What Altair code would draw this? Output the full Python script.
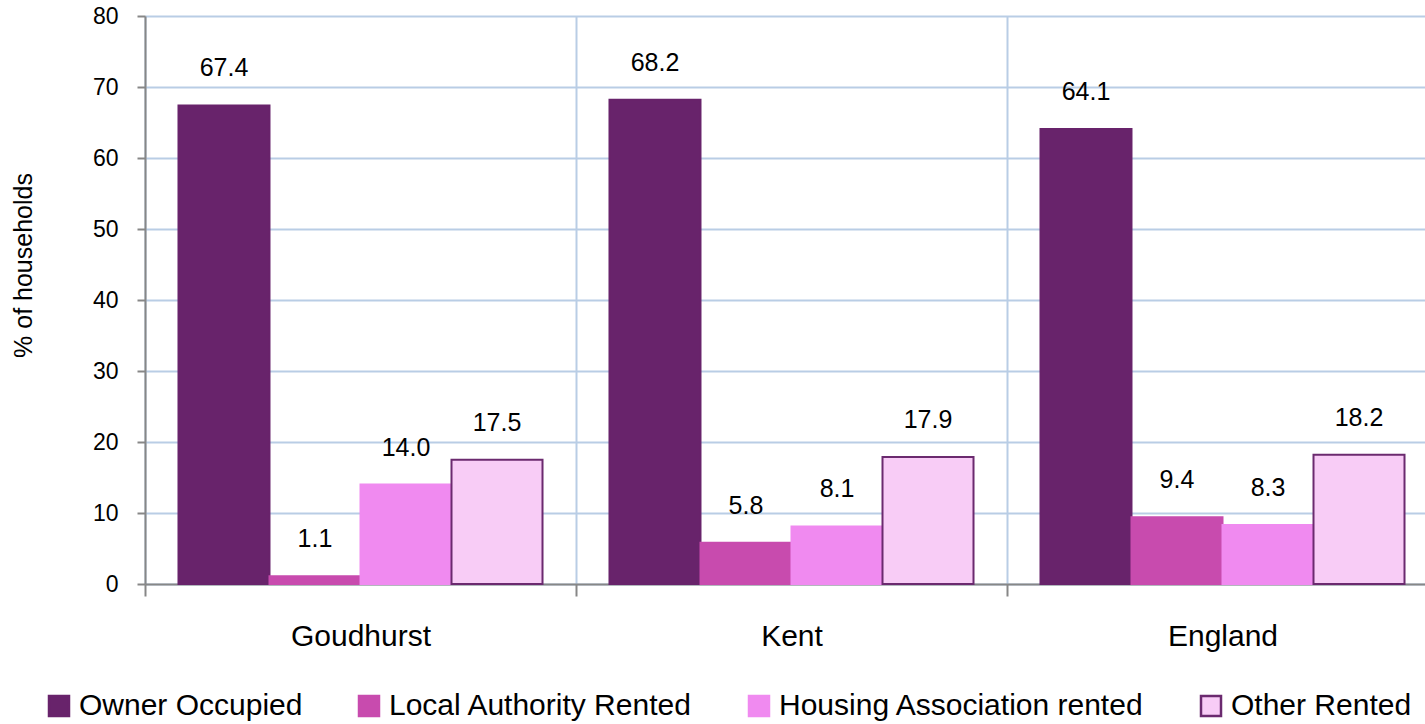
import altair as alt
import pandas as pd

# Household tenure shares (% of households)
areas = ["Goudhurst", "Kent", "England"]
tenures = [
    "Owner Occupied",
    "Local Authority Rented",
    "Housing Association rented",
    "Other Rented",
]
owner_occupied = [67.4, 68.2, 64.1]
local_authority = [1.1, 5.8, 9.4]
housing_association = [14.0, 8.1, 8.3]
other_rented = [17.5, 17.9, 18.2]

fill_colors = ["#68236b", "#c84bae", "#f08af0", "#f8ccf6"]
stroke_colors = ["#68236b", "#c84bae", "#f08af0", "#6b2a6f"]

series = [owner_occupied, local_authority, housing_association, other_rented]
rows = []
for tenure, values in zip(tenures, series):
    for area, v in zip(areas, values):
        rows.append({"area": area, "tenure": tenure, "pct": v})
df = pd.DataFrame(rows)

FONT = "Liberation Sans"
GRID = "#b9cde5"
AXIS = "#878787"

x_enc = alt.X(
    "area:N",
    sort=areas,
    scale=alt.Scale(domain=areas, range=[0, 1293], paddingInner=0, paddingOuter=0),
    axis=alt.Axis(
        title=None,
        tickBand="extent",
        grid=True,
        gridColor=GRID,
        gridWidth=2,
        domainColor=AXIS,
        domainWidth=2,
        tickColor=AXIS,
        tickWidth=2,
        tickSize=12,
        labelAngle=0,
        labelFontSize=30,
        labelFont=FONT,
        labelColor="#000000",
        labelPadding=25,
        labelBaseline="top",
    ),
)
xoff_enc = alt.XOffset(
    "tenure:N",
    sort=tenures,
    scale=alt.Scale(domain=tenures, paddingInner=0, paddingOuter=0.368),
)
y_enc = alt.Y(
    "pct:Q",
    scale=alt.Scale(domain=[0, 80], nice=False),
    axis=alt.Axis(
        title="% of households",
        titleFont=FONT,
        titleFontSize=25,
        titleFontWeight="normal",
        titleColor="#000000",
        titleX=-122,
        titleY=249,
        titleAngle=-90,
        titleAlign="center",
        titleBaseline="middle",
        values=list(range(0, 81, 10)),
        grid=True,
        gridColor=GRID,
        gridWidth=2,
        domainColor=AXIS,
        domainWidth=2,
        tickColor=AXIS,
        tickWidth=2,
        tickSize=8,
        labelFontSize=23,
        labelFont=FONT,
        labelColor="#000000",
        labelPadding=19,
    ),
)

bars = alt.Chart(df).mark_bar(strokeWidth=2).encode(
    x=x_enc,
    xOffset=xoff_enc,
    y=y_enc,
    fill=alt.Fill(
        "tenure:N",
        sort=tenures,
        scale=alt.Scale(domain=tenures, range=fill_colors),
        legend=alt.Legend(
            title=None,
            orient="none",
            direction="horizontal",
            legendX=-101,
            legendY=675,
            symbolType="square",
            symbolSize=400,
            symbolStrokeWidth=2.5,
            symbolOpacity=1,
            labelFont=FONT,
            labelFontSize=30,
            labelColor="#000000",
            labelOffset=5,
            columnPadding=51,
            labelLimit=700,
        ),
    ),
    stroke=alt.Stroke(
        "tenure:N",
        sort=tenures,
        scale=alt.Scale(domain=tenures, range=stroke_colors),
        legend=None,
    ),
)

labels = alt.Chart(df).mark_text(
    font=FONT, fontSize=25, color="#000000", baseline="middle", dy=-37
).encode(
    x=x_enc,
    xOffset=xoff_enc,
    y=y_enc,
    text=alt.Text("pct:Q", format=".1f"),
)

chart = (
    alt.layer(bars, labels)
    .properties(
        width=1280,
        height=568,
        autosize=alt.AutoSizeParams(type="none"),
        padding={"left": 145, "top": 16, "right": 0, "bottom": 140},
    )
    .configure_view(stroke="transparent")
    .configure(background="#ffffff")
)

chart.save("out.html", embed_options={"renderer": "svg", "actions": False})
